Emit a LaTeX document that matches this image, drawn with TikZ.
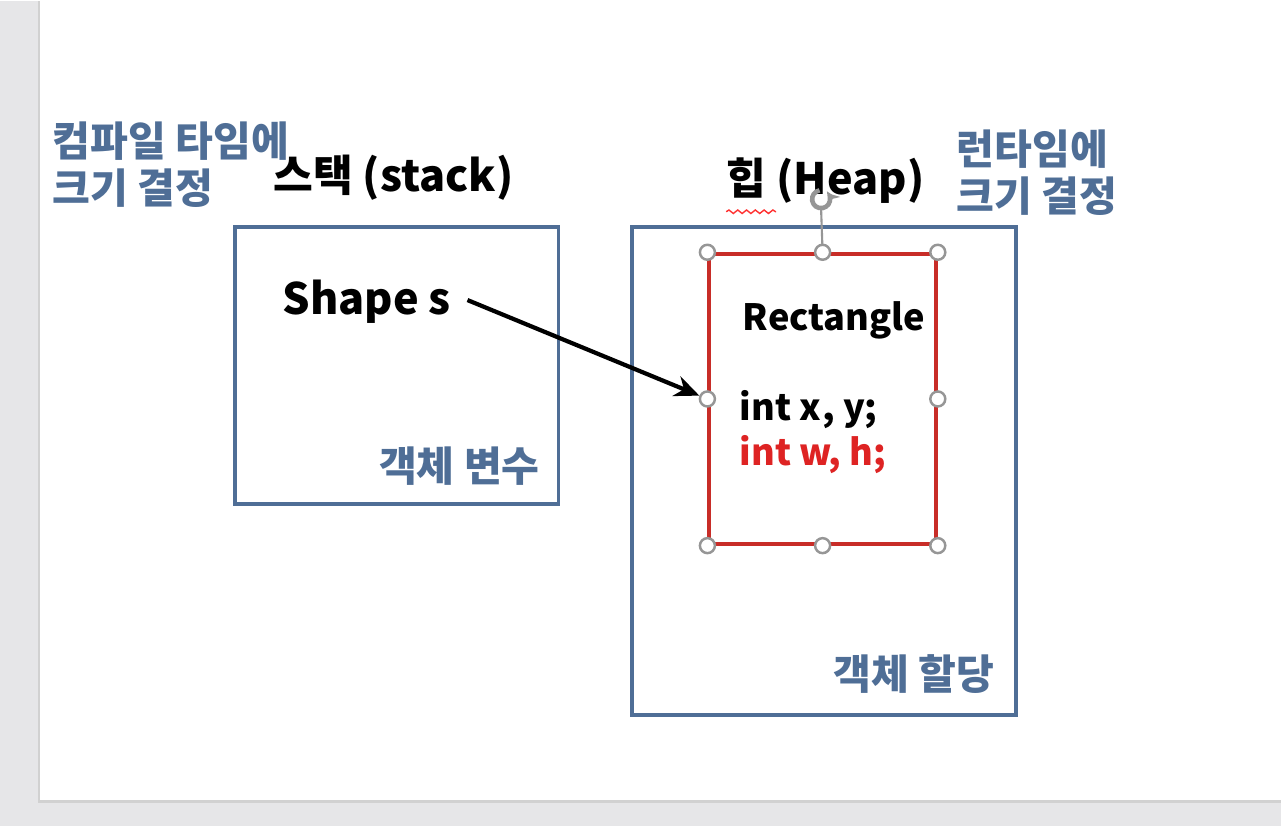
\documentclass[tikz,border=0pt]{standalone}
\usepackage{fontspec}
\setmainfont{Noto Sans CJK KR}
\usetikzlibrary{arrows.meta,decorations.pathmorphing}
\definecolor{slate}{RGB}{79,110,150}
\definecolor{boxred}{RGB}{200,45,40}
\definecolor{txtred}{RGB}{222,35,35}
\definecolor{pane}{RGB}{230,230,232}
\definecolor{knob}{RGB}{150,150,150}
\tikzset{
  sidenote/.style={font=\bfseries\fontsize{11.7}{13.2}\selectfont, text=slate, align=left, inner sep=0pt},
  headtxt/.style={font=\bfseries\fontsize{12.3}{15}\selectfont, inner sep=0pt},
  codetxt/.style={font=\bfseries\fontsize{10.3}{13}\selectfont, inner sep=0pt},
  memframe/.style={draw=slate, line width=1.1pt, inner sep=0pt},
  handle/.style={circle, draw=knob, fill=white, line width=0.7pt, minimum size=0.15cm, inner sep=0pt}
}
\begin{document}
\begin{tikzpicture}[x=0.01cm,y=-0.01cm]
      % slide pane
      \fill[pane] (0,0) rectangle (1282,826);
      \fill[white] (40,0) rectangle (1282,800);
      \draw[black!18, line width=0.8pt] (39,0) -- (39,801) -- (1282,801);
      \useasboundingbox (0,0) rectangle (1282,826);
      \draw
        (397,364.5) node[memframe, minimum width=3.24cm, minimum height=2.77cm] (stack){}
        (825,470) node[memframe, minimum width=3.84cm, minimum height=4.88cm] (heap){}
        (823.5,398) node[draw=boxred, line width=1pt, minimum width=2.27cm, minimum height=2.9cm] (obj){}
        (52,120) node[sidenote, anchor=north west] (cnote){컴파일 타임에\\크기 결정}
        (957,128) node[sidenote, anchor=north west] (rnote){런타임에\\크기 결정}
        (273,190) node[headtxt, anchor=base west] (stackttl){스택 (stack)}
        (727,193) node[headtxt, anchor=base west] (heapttl){힙 (Heap)}
        (282,313) node[headtxt, anchor=base west] (shape){Shape s}
        (743,329) node[codetxt, anchor=base west] (rname){Rectangle}
        (740,420) node[codetxt, anchor=base west] (xy){int x, y;}
        (740,465) node[codetxt, anchor=base west, text=txtred] (wh){int w, h;}
        (541,481) node[sidenote, anchor=base east] (svar){객체 변수}
        (996,689) node[sidenote, anchor=base east] (halloc){객체 할당};
      % spell check mark
      \draw[red!80, line width=0.4pt, decorate, decoration={snake, amplitude=0.5pt, segment length=2.5pt}]
        ([yshift=-5pt]heapttl.base west) -- ++(50,0);
      % selection handles
      \coordinate (rot) at (822,198);
      \draw[knob, line width=0.6pt] ([yshift=-0.1cm]rot) -- (obj.north);
      \draw[knob, line width=1.3pt, -{Stealth[length=3pt,width=4pt]}]
        ([shift={(100:0.09cm)}]rot) arc[start angle=100, end angle=400, radius=0.09cm];
      \foreach \a/\n in {north west/nw, north/n, north east/ne, west/w, east/e, south west/sw, south/s, south east/se}
        \node[handle] (h\n) at (obj.\a) {};
      % pointer
      \coordinate (tail) at (468,299);
      \begin{scope}[line width=1.2pt, -{Stealth[length=7pt,width=6pt]}]
        \draw (tail) to (hw);
      \end{scope}
    \end{tikzpicture}
\end{document}
